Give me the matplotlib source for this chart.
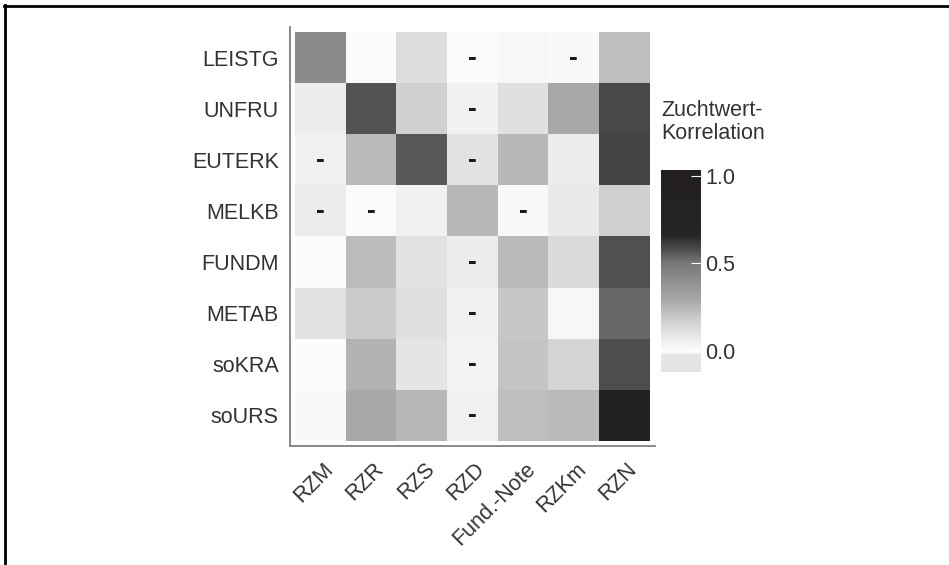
import numpy as np
import matplotlib
matplotlib.use("Agg")
import matplotlib.pyplot as plt
from matplotlib.colors import LinearSegmentedColormap, Normalize
from matplotlib.lines import Line2D
from matplotlib.transforms import ScaledTranslation

plt.rcParams["font.family"] = ["Liberation Sans", "DejaVu Sans"]

# breeding value traits (columns) and health traits (rows)
columns = ["RZM", "RZR", "RZS", "RZD", "Fund.-Note", "RZKm", "RZN"]
rows = ["LEISTG", "UNFRU", "EUTERK", "MELKB", "FUNDM", "METAB", "soKRA", "soURS"]

# correlation values
corr_leistg = [0.42, 0.00, 0.118, 0.00, 0.018, 0.01, 0.225]
corr_unfru = [0.062, 0.57, 0.164, 0.044, 0.11, 0.29, 0.59]
corr_euterk = [0.044, 0.235, 0.56, 0.10, 0.24, 0.062, 0.60]
corr_melkb = [0.062, 0.00, 0.044, 0.24, 0.01, 0.071, 0.17]
corr_fundm = [0.00, 0.23, 0.10, 0.062, 0.235, 0.126, 0.575]
corr_metab = [0.10, 0.185, 0.11, 0.044, 0.196, 0.02, 0.53]
corr_sokra = [0.00, 0.255, 0.09, 0.035, 0.207, 0.15, 0.58]
corr_sours = [0.01, 0.285, 0.24, 0.044, 0.225, 0.235, 0.95]

# cells marked with "-"
dash_cells = [
    ("LEISTG", "RZD"), ("LEISTG", "RZKm"),
    ("UNFRU", "RZD"),
    ("EUTERK", "RZM"), ("EUTERK", "RZD"),
    ("MELKB", "RZM"), ("MELKB", "RZR"), ("MELKB", "Fund.-Note"),
    ("FUNDM", "RZD"), ("METAB", "RZD"), ("soKRA", "RZD"), ("soURS", "RZD"),
]

colorbar_ticks = [0.0, 0.5, 1.0]
colorbar_title = "Zuchtwert-\nKorrelation"

data = np.array([corr_leistg, corr_unfru, corr_euterk, corr_melkb,
                 corr_fundm, corr_metab, corr_sokra, corr_sours])

vmin, vmax = -0.12, 1.035


def pos(v):
  return (v - vmin) / (vmax - vmin)


cmap = LinearSegmentedColormap.from_list("zw", [
    (0.0, "#e4e4e4"),
    (pos(-0.02), "#e6e6e6"),
    (pos(-0.012), "#fbfbfb"),
    (pos(0.005), "#fbfbfb"),
    (pos(0.08), "#e8e8e8"),
    (pos(0.175), "#cfcfcf"),
    (pos(0.29), "#a8a8a8"),
    (pos(0.5), "#787878"),
    (pos(0.66), "#262424"),
    (1.0, "#231f20"),
], N=2048)
norm = Normalize(vmin=vmin, vmax=vmax)

W, H = 949, 565
fig = plt.figure(figsize=(W / 100, H / 100), dpi=100)
ax = fig.add_axes([290 / W, 1 - 446 / H, 365 / W, 419 / H])

im = ax.imshow(data, cmap=cmap, norm=norm, aspect="auto",
               interpolation="nearest")
ax.set_xlim(-0.5 - 0.105, len(columns) - 0.5 + 0.11)
ax.set_ylim(len(rows) - 0.5 + 0.1, -0.5 - 0.1)

for r, c in dash_cells:
  ax.text(columns.index(c), rows.index(r), "-", ha="center", va="center",
          fontsize=19, fontweight="bold", color="#1a1a1a")

for side in ["top", "right"]:
  ax.spines[side].set_visible(False)
for side in ["left", "bottom"]:
  ax.spines[side].set_color("#808080")
  ax.spines[side].set_linewidth(1.3)

ax.set_yticks(range(len(rows)))
ax.set_yticklabels(rows, fontsize=15.5, color="#333333")
ax.set_xticks(range(len(columns)))
ax.set_xticklabels(columns, fontsize=15.5, color="#333333", rotation=45,
                   ha="right", va="top", rotation_mode="anchor")
ax.tick_params(axis="y", length=0, pad=8)
ax.tick_params(axis="x", length=0, pad=9)
shift = ScaledTranslation(2 / 100, 0, fig.dpi_scale_trans)
for lab in ax.get_xticklabels():
  lab.set_transform(lab.get_transform() + shift)

cax = fig.add_axes([660.7 / W, 1 - 371.7 / H, 40.3 / W, 201.7 / H])
cb = fig.colorbar(im, cax=cax, ticks=colorbar_ticks)
cb.outline.set_visible(False)
cb.ax.set_yticklabels([f"{t:.1f}" for t in colorbar_ticks], fontsize=15.5,
                      color="#333333")
cb.ax.tick_params(direction="in", color="white", length=7, width=0.8, pad=3)
fig.text(661 / W, 1 - 100 / H, colorbar_title, ha="left", va="top",
         fontsize=15.5, color="#333333", linespacing=1.1)

# outer frame (top and left edge)
fig.add_artist(Line2D([4 / W, 1.0], [1 - 6 / H, 1 - 6 / H],
                      transform=fig.transFigure, color="black", lw=2))
fig.add_artist(Line2D([5 / W, 5 / W], [0.0, 1 - 5 / H],
                      transform=fig.transFigure, color="black", lw=2))

fig.savefig("out.png", dpi=100, facecolor="white")
